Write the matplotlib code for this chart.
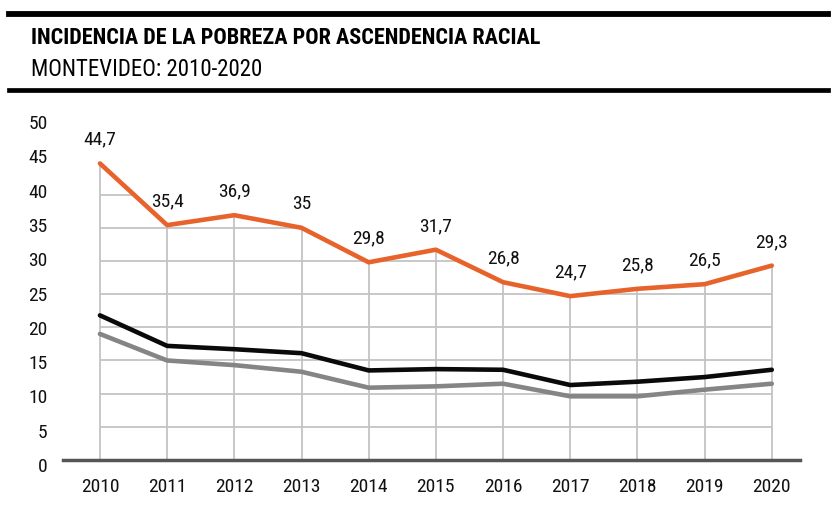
import matplotlib
matplotlib.use('Agg')
import matplotlib.pyplot as plt
from matplotlib import font_manager as fm

years = [2010, 2011, 2012, 2013, 2014, 2015, 2016, 2017, 2018, 2019, 2020]
afro = [44.7, 35.4, 36.9, 35, 29.8, 31.7, 26.8, 24.7, 25.8, 26.5, 29.3]
total = [21.8, 17.2, 16.7, 16.1, 13.5, 13.7, 13.6, 11.3, 11.8, 12.5, 13.6]
no_afro = [19.0, 15.0, 14.3, 13.3, 10.9, 11.1, 11.5, 9.6, 9.6, 10.6, 11.5]
afro_labels = ['44,7', '35,4', '36,9', '35', '29,8', '31,7', '26,8', '24,7', '25,8', '26,5', '29,3']
yticks = [0, 5, 10, 15, 20, 25, 30, 35, 40, 45, 50]
grid_y = [5, 10, 15, 20, 25, 30, 35, 40]


# look for a narrow/condensed face, otherwise plain DejaVu
def narrow_font(bold):
    narrow_words = ('condensed', 'narrow', 'semi-condensed', 'extra-condensed')
    found = []
    for f in fm.fontManager.ttflist:
        st = str(f.stretch).lower()
        is_narrow = st in narrow_words or 'narrow' in f.name.lower() or 'condensed' in f.name.lower()
        if isinstance(f.stretch, int) and f.stretch < 500:
            is_narrow = True
        if not is_narrow or f.style != 'normal':
            continue
        w = f.weight if isinstance(f.weight, int) else fm.weight_dict.get(f.weight, 400)
        if bold and w >= 600 or (not bold and 350 <= w <= 500):
            found.append(f)
    order = ['Liberation Sans Narrow', 'Roboto Condensed', 'DejaVu Sans', 'Noto Sans',
             'Open Sans', 'Open Sans Condensed']
    found.sort(key=lambda f: order.index(f.name) if f.name in order else 99)
    if found:
        return fm.FontProperties(fname=found[0].fname)
    return fm.FontProperties(family='DejaVu Sans', weight='bold' if bold else 'normal')


reg = narrow_font(False)
bld = narrow_font(True)

orange = '#e8632b'
W, H = 833, 517
fig = plt.figure(figsize=(W / 100, H / 100), dpi=100)

# header rules and titles
fig.add_artist(plt.Line2D([9 / W, 828 / W], [1 - 13.5 / H, 1 - 13.5 / H], color='black', lw=4.2))
fig.add_artist(plt.Line2D([9 / W, 828 / W], [1 - 90 / H, 1 - 90 / H], color='black', lw=3.4))
fig.text(31 / W, 1 - 38 / H, 'INCIDENCIA DE LA POBREZA POR ASCENDENCIA RACIAL',
         fontproperties=bld, fontsize=16, va='center', ha='left')
fig.text(31 / W, 1 - 69.5 / H, 'MONTEVIDEO: 2010-2020',
         fontproperties=reg, fontsize=16.5, va='center', ha='left')

ax = fig.add_axes([63 / W, 1 - 460 / H, (800 - 63) / W, (460 - 115) / H])
ax.set_xlim(2009.45, 2020.42)
ax.set_ylim(0, 52)

# grid only under the orange line
ax.hlines(grid_y, 2010, 2020, color='#c4c4c4', lw=1.3, zorder=1)
ax.fill_between(years, afro, 60, color='white', zorder=2, lw=0)
ax.vlines(years, 0, afro, color='#c4c4c4', lw=1.3, zorder=2.5)

ax.plot(years, no_afro, color='#858585', lw=3.3, zorder=3, solid_capstyle='round')
ax.plot(years, total, color='#0a0a0a', lw=3.3, zorder=4, solid_capstyle='round')
ax.plot(years, afro, color=orange, lw=3.3, zorder=5, solid_capstyle='round')

for x, y, t in zip(years, afro, afro_labels):
    ax.annotate(t, (x, y), xytext=(0, 17), textcoords='offset points',
                ha='center', va='center', fontproperties=reg, fontsize=14, color='#111111')

for s in ['top', 'right', 'left']:
    ax.spines[s].set_visible(False)
ax.spines['bottom'].set_color('#555555')
ax.spines['bottom'].set_linewidth(2.5)
ax.spines['bottom'].set_zorder(6)

ax.set_xticks(years)
ax.set_xticklabels([str(y) for y in years], fontproperties=reg, fontsize=14)
ax.set_yticks([])
ax.tick_params(axis='x', length=0, colors='#111111', pad=13)

# the value scale is printed a little looser than the grid in the original
lab_ax = fig.add_axes([63 / W, 1 - 465 / H, 0.001, (465 - 110) / H])
lab_ax.set_ylim(0, 51.75)
lab_ax.set_yticks(yticks)
lab_ax.set_yticklabels([str(v) for v in yticks], fontproperties=reg, fontsize=14)
lab_ax.tick_params(axis='y', length=0, colors='#111111', pad=11)
lab_ax.set_xticks([])
lab_ax.patch.set_visible(False)
for s in lab_ax.spines.values():
    s.set_visible(False)

fig.savefig('out.png', dpi=100)
